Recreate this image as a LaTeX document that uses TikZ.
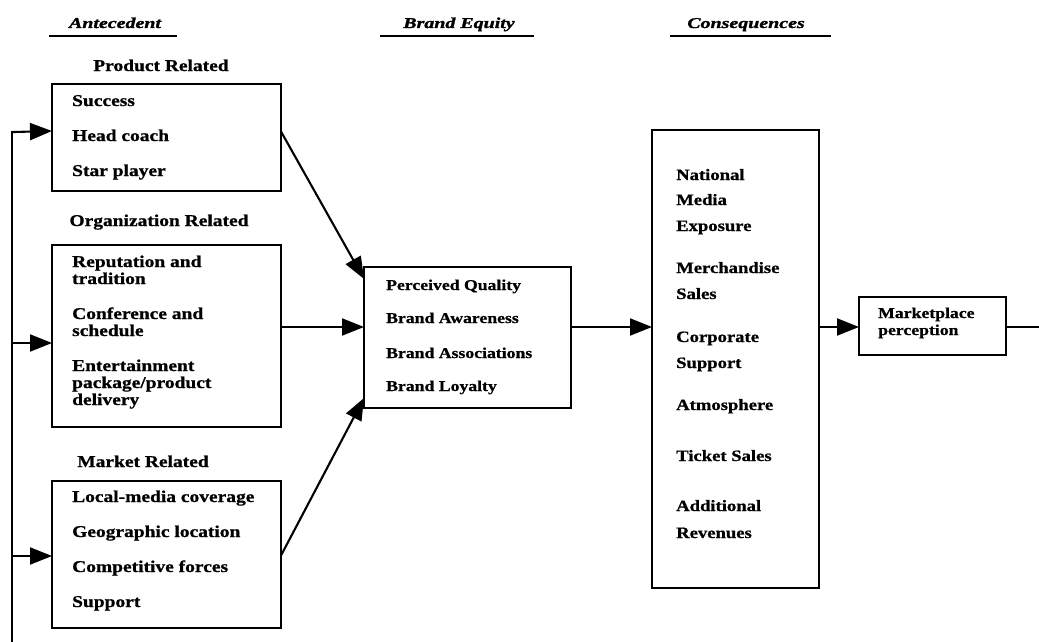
\documentclass[tikz,border=0pt]{standalone}
\usepackage{fontspec}
\setmainfont{Liberation Serif}[FakeStretch=1.18, BoldFeatures={FakeBold=0.9}]
\newfontfamily\headfont{Liberation Serif}[FakeStretch=1.33, BoldItalicFeatures={FakeBold=1.6}]
\usetikzlibrary{arrows.meta}

\tikzset{
  box/.style={draw, rectangle, line width=2.7pt, inner sep=0pt, outer sep=0pt},
  arr/.style={line width=2.1pt, line join=miter, -{Triangle[length=22pt,width=17pt]}},
  wire/.style={line width=2.1pt, line join=miter},
  item/.style={anchor=base west, inner sep=0pt, font=\fontsize{16.5}{18}\bfseries\selectfont},
  bitem/.style={item, font=\fontsize{15}{17}\bfseries\selectfont},
  citem/.style={item, font=\fontsize{15.8}{18}\bfseries\selectfont},
  group/.style={anchor=base, inner sep=0pt, font=\fontsize{16.5}{18}\bfseries\selectfont},
  colhead/.style={anchor=base, inner sep=0pt, font=\headfont\fontsize{15}{18}\bfseries\itshape\selectfont},
  rule/.style={line width=2pt}
}

\begin{document}
\begin{tikzpicture}[x=1pt,y=-1pt]
\useasboundingbox (0,0) rectangle (1039,642);

% column headings with their rules
\node[colhead] (hA) at (115,28) {Antecedent};
\node[colhead] (hB) at (459,28) {Brand Equity};
\node[colhead] (hC) at (746,28) {Consequences};
\coordinate (rA1) at (49,36);  \coordinate (rA2) at (177,36);
\coordinate (rB1) at (380,36); \coordinate (rB2) at (534,36);
\coordinate (rC1) at (670,36); \coordinate (rC2) at (831,36);
\draw[rule] (rA1) -- (rA2);
\draw[rule] (rB1) -- (rB2);
\draw[rule] (rC1) -- (rC2);

% antecedent groups
\node[group] (gP) at (161,71) {Product Related};
\node[box, minimum width=229pt, minimum height=107pt] (prod) at (166.5,137.5) {};
\node[item] (p1) at (72,106) {Success};
\node[item] (p2) at (72,141) {Head coach};
\node[item] (p3) at (72,176) {Star player};

\node[group] (gO) at (159,226) {Organization Related};
\node[box, minimum width=229pt, minimum height=182pt] (org) at (166.5,336) {};
\node[item] (o1) at (72,267) {Reputation and};
\node[item] (o2) at (72,284) {tradition};
\node[item] (o3) at (72,319) {Conference and};
\node[item] (o4) at (72,336) {schedule};
\node[item] (o5) at (72,371) {Entertainment};
\node[item] (o6) at (72,388) {package/product};
\node[item] (o7) at (72,405) {delivery};

\node[group] (gM) at (143,467) {Market Related};
\node[box, minimum width=229pt, minimum height=147pt] (mkt) at (166.5,554.5) {};
\node[item] (m1) at (72,502) {Local-media coverage};
\node[item] (m2) at (72,537) {Geographic location};
\node[item] (m3) at (72,572) {Competitive forces};
\node[item] (m4) at (72,607) {Support};

% brand equity
\node[box, minimum width=207pt, minimum height=141pt] (brand) at (467.5,337.5) {};
\node[bitem] (b1) at (386,290) {Perceived Quality};
\node[bitem] (b2) at (386,323) {Brand Awareness};
\node[bitem] (b3) at (386,358) {Brand Associations};
\node[bitem] (b4) at (386,391) {Brand Loyalty};

% consequences
\node[box, minimum width=167pt, minimum height=458pt] (cons) at (735.5,359) {};
\node[citem] (c1) at (676,180) {National};
\node[citem] (c2) at (676,205) {Media};
\node[citem] (c3) at (676,231) {Exposure};
\node[citem] (c4) at (676,273) {Merchandise};
\node[citem] (c5) at (676,299) {Sales};
\node[citem] (c6) at (676,342) {Corporate};
\node[citem] (c7) at (676,368) {Support};
\node[citem] (c8) at (676,410) {Atmosphere};
\node[citem] (c9) at (676,461) {Ticket Sales};
\node[citem] (c10) at (676,511) {Additional};
\node[citem] (c11) at (676,538) {Revenues};

\node[box, minimum width=147pt, minimum height=58pt] (mp) at (932.5,326) {};
\node[bitem] (mp1) at (878,318) {Marketplace};
\node[bitem] (mp2) at (878,335) {perception};

% connectors
\coordinate (axis) at (600,327);
\draw[arr] ([yshift=6pt]prod.east) -- ([yshift=-12pt]brand.north west);
\draw[arr] (org.east |- axis) -- (brand.west |- axis);
\draw[arr] ([yshift=-1pt]mkt.east) -- ([yshift=10pt]brand.south west);
\draw[arr] (brand.east |- axis) -- (cons.west |- axis);
\draw[arr] (cons.east |- axis) -- (mp.west |- axis);
\coordinate (exit) at (1039,327);
\draw[wire] (mp.east |- exit) -- (exit);

% feedback loop
\coordinate (fbbot) at (12,642);
\coordinate (fb1) at (12,131);
\coordinate (fb2) at (12,343);
\coordinate (fb3) at (12,556);
\draw[wire] (fbbot) -- (fb1);
\draw[arr] ([yshift=-1.05pt]fb1) -- (prod.west |- fb1);
\draw[arr] (fb2) -- (org.west |- fb2);
\draw[arr] (fb3) -- (mkt.west |- fb3);
\end{tikzpicture}
\end{document}
